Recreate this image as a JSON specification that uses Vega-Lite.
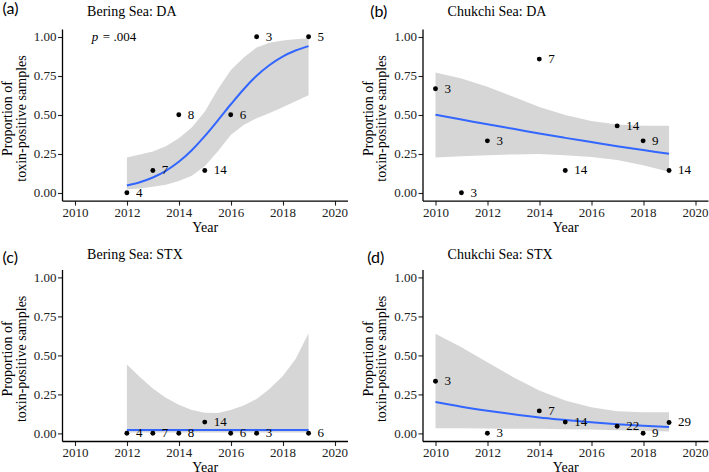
{
  "$schema": "https://vega.github.io/schema/vega-lite/v6.json",
  "padding": {"left": 0, "top": 0, "right": 0, "bottom": 0},
  "background": "white",
  "config": {
    "view": {"stroke": null},
    "font": "Liberation Serif",
    "axis": {
      "labelFont": "Liberation Serif", "labelFontSize": 13, "labelColor": "#222222",
      "titleFont": "Liberation Serif", "titleFontSize": 14, "titleFontWeight": "normal", "titleColor": "black",
      "domainColor": "black", "domainWidth": 1.3, "tickColor": "#222222", "tickWidth": 1.1, "tickSize": 4.5,
      "grid": false, "labelPadding": 1.5
    }
  },
  "datasets": {
    "pts": [
      {"panel": "a", "year": 2012, "prop": 0, "n": 4},
      {"panel": "a", "year": 2013, "prop": 0.143, "n": 7},
      {"panel": "a", "year": 2014, "prop": 0.5, "n": 8},
      {"panel": "a", "year": 2015, "prop": 0.143, "n": 14},
      {"panel": "a", "year": 2016, "prop": 0.5, "n": 6},
      {"panel": "a", "year": 2017, "prop": 1, "n": 3},
      {"panel": "a", "year": 2019, "prop": 1, "n": 5},
      {"panel": "b", "year": 2010, "prop": 0.667, "n": 3},
      {"panel": "b", "year": 2011, "prop": 0, "n": 3},
      {"panel": "b", "year": 2012, "prop": 0.333, "n": 3},
      {"panel": "b", "year": 2014, "prop": 0.857, "n": 7},
      {"panel": "b", "year": 2015, "prop": 0.143, "n": 14},
      {"panel": "b", "year": 2017, "prop": 0.429, "n": 14},
      {"panel": "b", "year": 2018, "prop": 0.333, "n": 9},
      {"panel": "b", "year": 2019, "prop": 0.143, "n": 14},
      {"panel": "c", "year": 2012, "prop": 0, "n": 4},
      {"panel": "c", "year": 2013, "prop": 0, "n": 7},
      {"panel": "c", "year": 2014, "prop": 0, "n": 8},
      {"panel": "c", "year": 2015, "prop": 0.071, "n": 14},
      {"panel": "c", "year": 2016, "prop": 0, "n": 6},
      {"panel": "c", "year": 2017, "prop": 0, "n": 3},
      {"panel": "c", "year": 2019, "prop": 0, "n": 6},
      {"panel": "d", "year": 2010, "prop": 0.333, "n": 3},
      {"panel": "d", "year": 2012, "prop": 0, "n": 3},
      {"panel": "d", "year": 2014, "prop": 0.143, "n": 7},
      {"panel": "d", "year": 2015, "prop": 0.071, "n": 14},
      {"panel": "d", "year": 2017, "prop": 0.045, "n": 22},
      {"panel": "d", "year": 2018, "prop": 0, "n": 9},
      {"panel": "d", "year": 2019, "prop": 0.069, "n": 29}
    ],
    "fit": [
      {"panel": "a", "year": 2012, "fit": 0.047, "lo": 0.021, "hi": 0.226},
      {"panel": "a", "year": 2012.5, "fit": 0.068, "lo": 0.028, "hi": 0.246},
      {"panel": "a", "year": 2013, "fit": 0.098, "lo": 0.038, "hi": 0.265},
      {"panel": "a", "year": 2013.5, "fit": 0.141, "lo": 0.052, "hi": 0.298},
      {"panel": "a", "year": 2014, "fit": 0.199, "lo": 0.076, "hi": 0.35},
      {"panel": "a", "year": 2014.5, "fit": 0.273, "lo": 0.11, "hi": 0.418},
      {"panel": "a", "year": 2015, "fit": 0.363, "lo": 0.17, "hi": 0.52},
      {"panel": "a", "year": 2015.5, "fit": 0.463, "lo": 0.265, "hi": 0.662},
      {"panel": "a", "year": 2016, "fit": 0.566, "lo": 0.37, "hi": 0.785},
      {"panel": "a", "year": 2016.5, "fit": 0.664, "lo": 0.435, "hi": 0.868},
      {"panel": "a", "year": 2017, "fit": 0.75, "lo": 0.478, "hi": 0.932},
      {"panel": "a", "year": 2017.5, "fit": 0.819, "lo": 0.512, "hi": 0.962},
      {"panel": "a", "year": 2018, "fit": 0.873, "lo": 0.548, "hi": 0.977},
      {"panel": "a", "year": 2018.5, "fit": 0.912, "lo": 0.587, "hi": 0.985},
      {"panel": "a", "year": 2019, "fit": 0.94, "lo": 0.626, "hi": 0.99},
      {"panel": "b", "year": 2010, "fit": 0.5, "lo": 0.226, "hi": 0.771},
      {"panel": "b", "year": 2011, "fit": 0.47, "lo": 0.235, "hi": 0.733},
      {"panel": "b", "year": 2012, "fit": 0.439, "lo": 0.241, "hi": 0.68},
      {"panel": "b", "year": 2013, "fit": 0.41, "lo": 0.246, "hi": 0.615},
      {"panel": "b", "year": 2014, "fit": 0.38, "lo": 0.248, "hi": 0.55},
      {"panel": "b", "year": 2015, "fit": 0.352, "lo": 0.241, "hi": 0.498},
      {"panel": "b", "year": 2016, "fit": 0.325, "lo": 0.23, "hi": 0.46},
      {"panel": "b", "year": 2017, "fit": 0.298, "lo": 0.21, "hi": 0.438},
      {"panel": "b", "year": 2018, "fit": 0.274, "lo": 0.177, "hi": 0.43},
      {"panel": "b", "year": 2019, "fit": 0.25, "lo": 0.135, "hi": 0.43},
      {"panel": "c", "year": 2012, "fit": 0.02, "lo": 0.004, "hi": 0.44},
      {"panel": "c", "year": 2012.5, "fit": 0.02, "lo": 0.004, "hi": 0.36},
      {"panel": "c", "year": 2013, "fit": 0.02, "lo": 0.004, "hi": 0.287},
      {"panel": "c", "year": 2013.5, "fit": 0.02, "lo": 0.004, "hi": 0.228},
      {"panel": "c", "year": 2014, "fit": 0.02, "lo": 0.004, "hi": 0.182},
      {"panel": "c", "year": 2014.5, "fit": 0.02, "lo": 0.004, "hi": 0.149},
      {"panel": "c", "year": 2015, "fit": 0.02, "lo": 0.004, "hi": 0.131},
      {"panel": "c", "year": 2015.5, "fit": 0.02, "lo": 0.004, "hi": 0.13},
      {"panel": "c", "year": 2016, "fit": 0.02, "lo": 0.004, "hi": 0.148},
      {"panel": "c", "year": 2016.5, "fit": 0.02, "lo": 0.004, "hi": 0.178},
      {"panel": "c", "year": 2017, "fit": 0.02, "lo": 0.004, "hi": 0.22},
      {"panel": "c", "year": 2017.5, "fit": 0.02, "lo": 0.004, "hi": 0.285},
      {"panel": "c", "year": 2018, "fit": 0.02, "lo": 0.004, "hi": 0.365},
      {"panel": "c", "year": 2018.5, "fit": 0.02, "lo": 0.004, "hi": 0.475},
      {"panel": "c", "year": 2019, "fit": 0.02, "lo": 0.004, "hi": 0.64},
      {"panel": "d", "year": 2010, "fit": 0.2, "lo": 0.032, "hi": 0.637},
      {"panel": "d", "year": 2011, "fit": 0.17, "lo": 0.031, "hi": 0.551},
      {"panel": "d", "year": 2012, "fit": 0.144, "lo": 0.03, "hi": 0.455},
      {"panel": "d", "year": 2013, "fit": 0.121, "lo": 0.029, "hi": 0.359},
      {"panel": "d", "year": 2014, "fit": 0.101, "lo": 0.028, "hi": 0.274},
      {"panel": "d", "year": 2015, "fit": 0.085, "lo": 0.026, "hi": 0.209},
      {"panel": "d", "year": 2016, "fit": 0.07, "lo": 0.024, "hi": 0.167},
      {"panel": "d", "year": 2017, "fit": 0.058, "lo": 0.019, "hi": 0.141},
      {"panel": "d", "year": 2018, "fit": 0.048, "lo": 0.015, "hi": 0.135},
      {"panel": "d", "year": 2019, "fit": 0.04, "lo": 0.011, "hi": 0.135}
    ]
  },
  "columns": 2,
  "spacing": {"row": 68.4, "column": 74.5},
  "bounds": "flush",
  "concat": [
    {
      "width": 285.5, "height": 171.6,
      "resolve": {"scale": {"x": "independent", "y": "independent"}},
      "layer": [
        {
          "layer": [
            {
              "data": {"name": "fit"}, "transform": [{"filter": "datum.panel == 'a'"}],
              "mark": {"type": "area", "color": "#999999", "opacity": 0.4},
              "encoding": {
                "x": {"field": "year", "type": "quantitative", "scale": {"domain": [2009.5, 2020.5], "nice": false, "zero": false},
                      "axis": {"title": "Year", "values": [2010, 2012, 2014, 2016, 2018, 2020], "format": "d", "labelPadding": 1, "titleY": 30.6, "titleBaseline": "alphabetic"}},
                "y": {"field": "lo", "type": "quantitative", "scale": {"domain": [-0.05, 1.05], "nice": false, "zero": false},
                      "axis": {"title": ["Proportion of", "toxin-positive samples"], "values": [0, 0.25, 0.5, 0.75, 1], "format": ".2f", "titleX": -50.5, "titleY": 89, "titleAngle": -90, "titleAlign": "center", "titleBaseline": "alphabetic", "titleLineHeight": 13.5}},
                "y2": {"field": "hi"}
              }
            },
            {
              "data": {"name": "fit"}, "transform": [{"filter": "datum.panel == 'a'"}],
              "mark": {"type": "line", "color": "#3366FF", "strokeWidth": 2, "interpolate": "monotone"},
              "encoding": {"x": {"field": "year", "type": "quantitative"}, "y": {"field": "fit", "type": "quantitative"}}
            },
            {
              "data": {"name": "pts"}, "transform": [{"filter": "datum.panel == 'a'"}],
              "mark": {"type": "circle", "color": "black", "opacity": 1, "size": 24},
              "encoding": {"x": {"field": "year", "type": "quantitative"}, "y": {"field": "prop", "type": "quantitative"}}
            },
            {
              "data": {"name": "pts"}, "transform": [{"filter": "datum.panel == 'a'"}],
              "mark": {"type": "text", "align": "left", "baseline": "middle", "dx": 9, "font": "Liberation Serif", "fontSize": 13, "color": "black"},
              "encoding": {"x": {"field": "year", "type": "quantitative"}, "y": {"field": "prop", "type": "quantitative"}, "text": {"field": "n"}}
            },
            {
              "data": {"values": [{"p": "p", "rest": "= .004"}]},
              "mark": {"type": "text", "align": "left", "baseline": "middle", "font": "Liberation Serif", "fontSize": 13, "fontStyle": "italic", "color": "black"},
              "encoding": {"x": {"datum": 2010.65, "type": "quantitative"}, "y": {"datum": 1.0, "type": "quantitative"}, "text": {"field": "p"}}
            },
            {
              "data": {"values": [{"p": "p", "rest": "= .004"}]},
              "mark": {"type": "text", "align": "left", "baseline": "middle", "dx": 11, "font": "Liberation Serif", "fontSize": 13, "color": "black"},
              "encoding": {"x": {"datum": 2010.65, "type": "quantitative"}, "y": {"datum": 1.0, "type": "quantitative"}, "text": {"field": "rest"}}
            }
          ]
        },
        {
          "data": {"name": "pts"}, "transform": [{"filter": "datum.panel == 'a'"}],
          "mark": {"type": "point", "opacity": 0},
          "encoding": {
            "x": {"field": "year", "type": "quantitative", "scale": {"domain": [2009.5, 2020.5], "nice": false, "zero": false},
                  "axis": {"orient": "top", "title": "(a)", "labels": false, "ticks": false, "domain": false, "titleX": -60, "titleY": -20.5, "titleAngle": 0, "titleAlign": "left", "titleBaseline": "middle", "titleFont": "Lato", "titleFontSize": 16}},
            "y": {"field": "prop", "type": "quantitative", "scale": {"domain": [-0.05, 1.05], "nice": false, "zero": false},
                  "axis": {"orient": "right", "title": "Bering Sea: DA", "labels": false, "ticks": false, "domain": false, "titleX": -260.9, "titleY": -13.2, "titleAngle": 0, "titleAlign": "left", "titleBaseline": "alphabetic", "titleFontSize": 14}}
          }
        }
      ]
    },
    {
      "width": 285.5, "height": 171.6,
      "resolve": {"scale": {"x": "independent", "y": "independent"}},
      "layer": [
        {
          "layer": [
            {
              "data": {"name": "fit"}, "transform": [{"filter": "datum.panel == 'b'"}],
              "mark": {"type": "area", "color": "#999999", "opacity": 0.4},
              "encoding": {
                "x": {"field": "year", "type": "quantitative", "scale": {"domain": [2009.5, 2020.5], "nice": false, "zero": false},
                      "axis": {"title": "Year", "values": [2010, 2012, 2014, 2016, 2018, 2020], "format": "d", "labelPadding": 1, "titleY": 30.6, "titleBaseline": "alphabetic"}},
                "y": {"field": "lo", "type": "quantitative", "scale": {"domain": [-0.05, 1.05], "nice": false, "zero": false},
                      "axis": {"title": ["Proportion of", "toxin-positive samples"], "values": [0, 0.25, 0.5, 0.75, 1], "format": ".2f", "titleX": -50.5, "titleY": 89, "titleAngle": -90, "titleAlign": "center", "titleBaseline": "alphabetic", "titleLineHeight": 13.5}},
                "y2": {"field": "hi"}
              }
            },
            {
              "data": {"name": "fit"}, "transform": [{"filter": "datum.panel == 'b'"}],
              "mark": {"type": "line", "color": "#3366FF", "strokeWidth": 2, "interpolate": "monotone"},
              "encoding": {"x": {"field": "year", "type": "quantitative"}, "y": {"field": "fit", "type": "quantitative"}}
            },
            {
              "data": {"name": "pts"}, "transform": [{"filter": "datum.panel == 'b'"}],
              "mark": {"type": "circle", "color": "black", "opacity": 1, "size": 24},
              "encoding": {"x": {"field": "year", "type": "quantitative"}, "y": {"field": "prop", "type": "quantitative"}}
            },
            {
              "data": {"name": "pts"}, "transform": [{"filter": "datum.panel == 'b'"}],
              "mark": {"type": "text", "align": "left", "baseline": "middle", "dx": 9, "font": "Liberation Serif", "fontSize": 13, "color": "black"},
              "encoding": {"x": {"field": "year", "type": "quantitative"}, "y": {"field": "prop", "type": "quantitative"}, "text": {"field": "n"}}
            }
          ]
        },
        {
          "data": {"name": "pts"}, "transform": [{"filter": "datum.panel == 'b'"}],
          "mark": {"type": "point", "opacity": 0},
          "encoding": {
            "x": {"field": "year", "type": "quantitative", "scale": {"domain": [2009.5, 2020.5], "nice": false, "zero": false},
                  "axis": {"orient": "top", "title": "(b)", "labels": false, "ticks": false, "domain": false, "titleX": -52.7, "titleY": -17.7, "titleAngle": 0, "titleAlign": "left", "titleBaseline": "middle", "titleFont": "Lato", "titleFontSize": 16}},
            "y": {"field": "prop", "type": "quantitative", "scale": {"domain": [-0.05, 1.05], "nice": false, "zero": false},
                  "axis": {"orient": "right", "title": "Chukchi Sea: DA", "labels": false, "ticks": false, "domain": false, "titleX": -260.9, "titleY": -13.2, "titleAngle": 0, "titleAlign": "left", "titleBaseline": "alphabetic", "titleFontSize": 14}}
          }
        }
      ]
    },
    {
      "width": 285.5, "height": 171.6,
      "resolve": {"scale": {"x": "independent", "y": "independent"}},
      "layer": [
        {
          "layer": [
            {
              "data": {"name": "fit"}, "transform": [{"filter": "datum.panel == 'c'"}],
              "mark": {"type": "area", "color": "#999999", "opacity": 0.4},
              "encoding": {
                "x": {"field": "year", "type": "quantitative", "scale": {"domain": [2009.5, 2020.5], "nice": false, "zero": false},
                      "axis": {"title": "Year", "values": [2010, 2012, 2014, 2016, 2018, 2020], "format": "d", "labelPadding": 1, "titleY": 30.6, "titleBaseline": "alphabetic"}},
                "y": {"field": "lo", "type": "quantitative", "scale": {"domain": [-0.05, 1.05], "nice": false, "zero": false},
                      "axis": {"title": ["Proportion of", "toxin-positive samples"], "values": [0, 0.25, 0.5, 0.75, 1], "format": ".2f", "titleX": -50.5, "titleY": 89, "titleAngle": -90, "titleAlign": "center", "titleBaseline": "alphabetic", "titleLineHeight": 13.5}},
                "y2": {"field": "hi"}
              }
            },
            {
              "data": {"name": "fit"}, "transform": [{"filter": "datum.panel == 'c'"}],
              "mark": {"type": "line", "color": "#3366FF", "strokeWidth": 2, "interpolate": "monotone"},
              "encoding": {"x": {"field": "year", "type": "quantitative"}, "y": {"field": "fit", "type": "quantitative"}}
            },
            {
              "data": {"name": "pts"}, "transform": [{"filter": "datum.panel == 'c'"}],
              "mark": {"type": "circle", "color": "black", "opacity": 1, "size": 24},
              "encoding": {"x": {"field": "year", "type": "quantitative"}, "y": {"field": "prop", "type": "quantitative"}}
            },
            {
              "data": {"name": "pts"}, "transform": [{"filter": "datum.panel == 'c'"}],
              "mark": {"type": "text", "align": "left", "baseline": "middle", "dx": 9, "font": "Liberation Serif", "fontSize": 13, "color": "black"},
              "encoding": {"x": {"field": "year", "type": "quantitative"}, "y": {"field": "prop", "type": "quantitative"}, "text": {"field": "n"}}
            }
          ]
        },
        {
          "data": {"name": "pts"}, "transform": [{"filter": "datum.panel == 'c'"}],
          "mark": {"type": "point", "opacity": 0},
          "encoding": {
            "x": {"field": "year", "type": "quantitative", "scale": {"domain": [2009.5, 2020.5], "nice": false, "zero": false},
                  "axis": {"orient": "top", "title": "(c)", "labels": false, "ticks": false, "domain": false, "titleX": -60, "titleY": -11.6, "titleAngle": 0, "titleAlign": "left", "titleBaseline": "middle", "titleFont": "Lato", "titleFontSize": 16}},
            "y": {"field": "prop", "type": "quantitative", "scale": {"domain": [-0.05, 1.05], "nice": false, "zero": false},
                  "axis": {"orient": "right", "title": "Bering Sea: STX", "labels": false, "ticks": false, "domain": false, "titleX": -260.9, "titleY": -11, "titleAngle": 0, "titleAlign": "left", "titleBaseline": "alphabetic", "titleFontSize": 14}}
          }
        }
      ]
    },
    {
      "width": 285.5, "height": 171.6,
      "resolve": {"scale": {"x": "independent", "y": "independent"}},
      "layer": [
        {
          "layer": [
            {
              "data": {"name": "fit"}, "transform": [{"filter": "datum.panel == 'd'"}],
              "mark": {"type": "area", "color": "#999999", "opacity": 0.4},
              "encoding": {
                "x": {"field": "year", "type": "quantitative", "scale": {"domain": [2009.5, 2020.5], "nice": false, "zero": false},
                      "axis": {"title": "Year", "values": [2010, 2012, 2014, 2016, 2018, 2020], "format": "d", "labelPadding": 1, "titleY": 30.6, "titleBaseline": "alphabetic"}},
                "y": {"field": "lo", "type": "quantitative", "scale": {"domain": [-0.05, 1.05], "nice": false, "zero": false},
                      "axis": {"title": ["Proportion of", "toxin-positive samples"], "values": [0, 0.25, 0.5, 0.75, 1], "format": ".2f", "titleX": -50.5, "titleY": 89, "titleAngle": -90, "titleAlign": "center", "titleBaseline": "alphabetic", "titleLineHeight": 13.5}},
                "y2": {"field": "hi"}
              }
            },
            {
              "data": {"name": "fit"}, "transform": [{"filter": "datum.panel == 'd'"}],
              "mark": {"type": "line", "color": "#3366FF", "strokeWidth": 2, "interpolate": "monotone"},
              "encoding": {"x": {"field": "year", "type": "quantitative"}, "y": {"field": "fit", "type": "quantitative"}}
            },
            {
              "data": {"name": "pts"}, "transform": [{"filter": "datum.panel == 'd'"}],
              "mark": {"type": "circle", "color": "black", "opacity": 1, "size": 24},
              "encoding": {"x": {"field": "year", "type": "quantitative"}, "y": {"field": "prop", "type": "quantitative"}}
            },
            {
              "data": {"name": "pts"}, "transform": [{"filter": "datum.panel == 'd'"}],
              "mark": {"type": "text", "align": "left", "baseline": "middle", "dx": 9, "font": "Liberation Serif", "fontSize": 13, "color": "black"},
              "encoding": {"x": {"field": "year", "type": "quantitative"}, "y": {"field": "prop", "type": "quantitative"}, "text": {"field": "n"}}
            }
          ]
        },
        {
          "data": {"name": "pts"}, "transform": [{"filter": "datum.panel == 'd'"}],
          "mark": {"type": "point", "opacity": 0},
          "encoding": {
            "x": {"field": "year", "type": "quantitative", "scale": {"domain": [2009.5, 2020.5], "nice": false, "zero": false},
                  "axis": {"orient": "top", "title": "(d)", "labels": false, "ticks": false, "domain": false, "titleX": -55.7, "titleY": -11.6, "titleAngle": 0, "titleAlign": "left", "titleBaseline": "middle", "titleFont": "Lato", "titleFontSize": 16}},
            "y": {"field": "prop", "type": "quantitative", "scale": {"domain": [-0.05, 1.05], "nice": false, "zero": false},
                  "axis": {"orient": "right", "title": "Chukchi Sea: STX", "labels": false, "ticks": false, "domain": false, "titleX": -260.9, "titleY": -11, "titleAngle": 0, "titleAlign": "left", "titleBaseline": "alphabetic", "titleFontSize": 14}}
          }
        }
      ]
    }
  ]
}
